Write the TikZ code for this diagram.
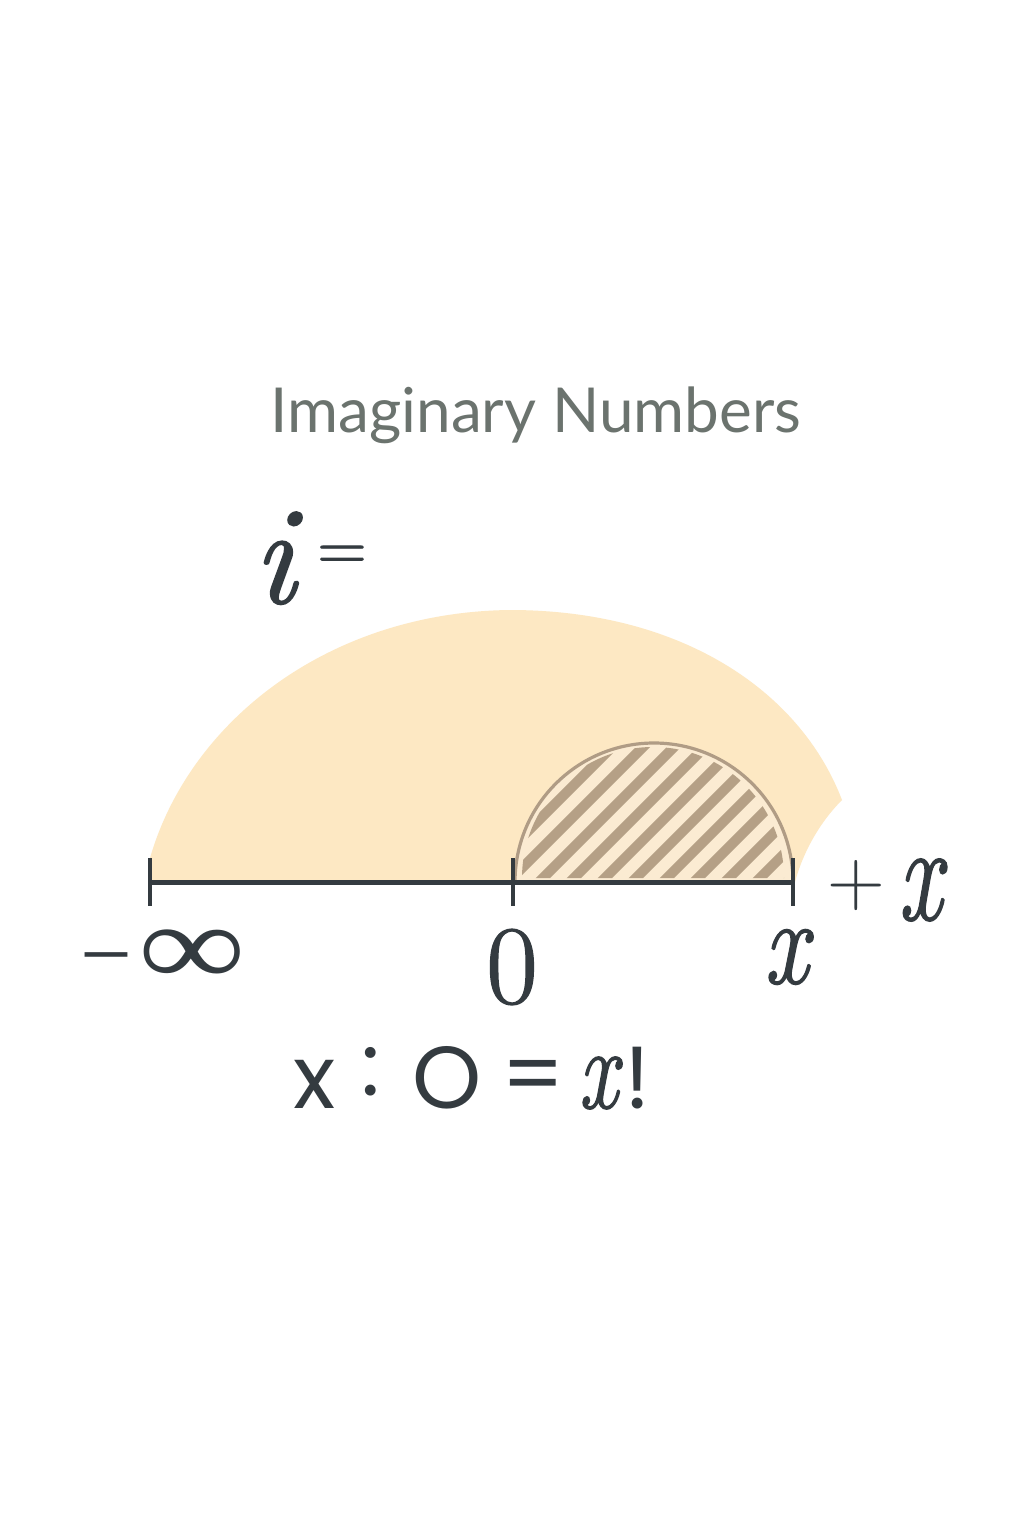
\RequirePackage{fix-cm}
\documentclass[tikz,border=0pt]{standalone}
\usepackage{fontspec}
\newfontfamily\titlefont{Lato}
\newfontfamily\formfont{Poppins}
\newfontfamily\lmb[FakeBold=1.3]{Latin Modern Roman}
\newfontfamily\libser{Liberation Serif}
\usepackage{graphicx}
\definecolor{ink}{HTML}{343B40}
\definecolor{titlegray}{HTML}{6B736E}
\definecolor{beige}{HTML}{FDE8C3}
\definecolor{cream}{HTML}{FBEBD2}
\definecolor{hatchc}{HTML}{B5A086}
\definecolor{rimc}{HTML}{B09C85}
\tikzset{
  lbl/.style={inner sep=0pt, outer sep=0pt, text=ink},
  axisline/.style={draw=ink, line width=2.5pt},
  tick/.style={draw=ink, line width=2pt},
  hatch/.style={draw=hatchc, line width=5pt},
}
\begin{document}
\begin{tikzpicture}[x=0.5pt,y=-0.5pt]
\fill[white] (0,0) rectangle (1024,1536);
\useasboundingbox (0,0) rectangle (1024,1536);

% big beige region
\fill[beige] (150,882) -- (150,858)
  .. controls (190,720) and (330,612) .. (510,610)
  .. controls (680,610) and (800,690) .. (842,800)
  .. controls (820,822) and (803,852) .. (795,882) -- cycle;

% hatched half disc
\fill[cream] (515,882) arc[start angle=180, end angle=360, radius=139] -- cycle;
\begin{scope}
  \clip (522,878) arc[start angle=180, end angle=360, radius=131] -- cycle;
  \foreach \k in {-10,...,10} {
    \draw[hatch] (645+\k*31,900) -- ++(220,-220);
  }
\end{scope}
\draw[rimc, line width=1.6pt] (515,882) arc[start angle=180, end angle=360, radius=139];

% axis
\coordinate (a) at (150,882);
\coordinate (o) at (513,882);
\coordinate (b) at (793,882);
\draw[axisline] (a) -- (b);
\draw[tick] (150,858) -- (150,906);
\draw[tick] (513,858) -- (513,906);
\draw[tick] (793,858) -- (793,906);

% title
\node[lbl, text=titlegray, anchor=base] (title) at (536,432)
  {\titlefont\fontsize{31}{36}\selectfont Imaginary Numbers};

% i =
\node[lbl, anchor=base] (ii) at (274,603) {\lmb\itshape\fontsize{70}{80}\selectfont i};
\node[lbl] (eq1) at (342,558) {\lmb\fontsize{34}{40}\selectfont =};

% axis labels
\node[lbl] (minf) at (163,958) {\libser{\fontsize{46}{50}\selectfont −}\hspace{3pt}\fontsize{58}{60}\selectfont\scalebox{1.3}[1]{∞}};
\node[lbl] (zero) at (512,967) {\lmb\fontsize{56}{60}\selectfont 0};
\node[lbl] (xlab) at (786,957) {\lmb\itshape\fontsize{61}{70}\selectfont\scalebox{0.8}[1]{x}};
\node[lbl] (plus) at (856,885) {\fontsize{40}{48}\selectfont $+$};
\node[lbl] (xplus) at (920,890) {\lmb\itshape\fontsize{69}{76}\selectfont\scalebox{0.7}[1]{x}};

% bottom formula
\node[lbl, anchor=base] (f1) at (315,1108) {\formfont\fontsize{44}{50}\selectfont x};
\node[lbl] (f2) at (371,1072) {\formfont\fontsize{44}{50}\selectfont :};
\node[lbl, anchor=base] (f3) at (447,1108) {\formfont\fontsize{44}{50}\selectfont O};
\node[lbl] (f4) at (533,1083) {\formfont\fontsize{44}{50}\selectfont =};
\node[lbl, anchor=base] (f5) at (598,1108) {\lmb\itshape\fontsize{58}{64}\selectfont\scalebox{0.75}[1]{x}};
\node[lbl, anchor=base] (f6) at (638,1108) {\formfont\fontsize{44}{50}\selectfont !};
\end{tikzpicture}
\end{document}
